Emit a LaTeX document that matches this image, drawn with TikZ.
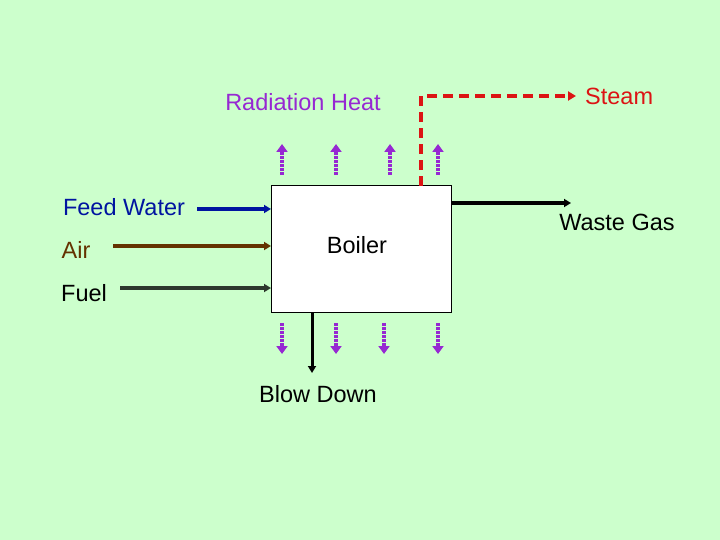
\documentclass[tikz,border=0pt]{standalone}
\usepackage{fontspec}
\setmainfont{Liberation Sans}
\usetikzlibrary{arrows.meta}
\definecolor{bg}{RGB}{204,255,204}
\definecolor{radp}{RGB}{150,40,210}
\definecolor{steamr}{RGB}{220,20,20}
\definecolor{feedb}{RGB}{0,20,160}
\definecolor{airb}{RGB}{100,50,0}
\definecolor{fuelg}{RGB}{45,55,45}
\begin{document}
\begin{tikzpicture}[x=1pt,y=-1pt,
  lbl/.style={font=\fontsize{23.5}{26}\selectfont, inner sep=0pt},
  flow/.style={line width=3.5pt, -{Triangle[length=7pt,width=8pt]}},
  heat/.style={radp, line width=4.5pt, dash pattern=on 2.5pt off 1.5pt, -{Triangle[length=8pt,width=11pt]}},
  steamline/.style={steamr, line width=3.5pt, dash pattern=on 10pt off 6pt, -{Triangle[length=8pt,width=9pt]}}]
\fill[bg] (0,0) rectangle (720,540);
\useasboundingbox (0,0) rectangle (720,540);
\node[draw=black, line width=1pt, fill=white, minimum width=180pt, minimum height=126pt, inner sep=0pt] (boiler) at (361,249) {};
\node[lbl] (boilerlbl) at (357,245) {Boiler};
\node[lbl, radp] (rad) at (303,102) {Radiation Heat};
\node[lbl, steamr, anchor=west] (steam) at (585,96) {Steam};
\node[lbl, feedb] (feed) at (124,207) {Feed Water};
\node[lbl, airb] (air) at (76,250) {Air};
\node[lbl] (fuel) at (84,293) {Fuel};
\node[lbl] (waste) at (617,222) {Waste Gas};
\node[lbl] (blow) at (318,394) {Blow Down};
% inputs
\coordinate (fw0) at (197,209); \coordinate (fw1) at (271,209);
\coordinate (ai0) at (113,246); \coordinate (ai1) at (271,246);
\coordinate (fu0) at (120,288); \coordinate (fu1) at (271,288);
\draw[flow, feedb] (fw0) -- (fw1);
\draw[flow, airb] (ai0) -- (ai1);
\draw[flow, fuelg] (fu0) -- (fu1);
% outputs
\coordinate (wg0) at (451,203); \coordinate (wg1) at (571,203);
\draw[flow, black] (wg0) -- (wg1);
\coordinate (bd0) at (312,312); \coordinate (bd1) at (312,373);
\draw[black, line width=3pt, -{Triangle[length=7pt,width=8pt]}] (bd0) -- (bd1);
\coordinate (st0) at (421,186); \coordinate (stc) at (421,96); \coordinate (st1) at (576,96);
\draw[steamline] (st0) -- (stc) -- (st1);
% radiation heat
\foreach \x [count=\i] in {282,336,390,438} {
  \coordinate (hu\i a) at (\x,175); \coordinate (hu\i b) at (\x,144);
  \draw[heat] (hu\i a) -- (hu\i b);
}
\foreach \x [count=\i] in {282,336,384,438} {
  \coordinate (hd\i a) at (\x,323); \coordinate (hd\i b) at (\x,354);
  \draw[heat] (hd\i a) -- (hd\i b);
}
\end{tikzpicture}
\end{document}
